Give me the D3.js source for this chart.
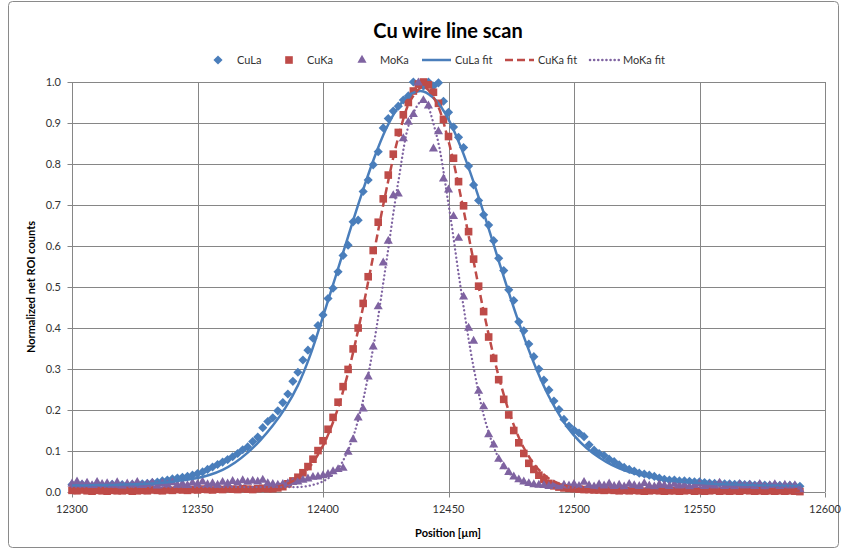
<!DOCTYPE html>
<html>
<head>
<meta charset="utf-8">
<script src="https://cdn.jsdelivr.net/npm/d3@7"></script>
<style>
  html, body { margin: 0; padding: 0; background: #fff; }
  svg { display: block; font-family: Lato, "Open Sans", sans-serif; }
</style>
</head>
<body>
<svg id="chart" width="843" height="552"></svg>
<script>
// Scan positions (µm): measured points every 2 µm, fit curves sampled every 5 µm
const positions = d3.range(12300, 12591, 2);
const fitPositions = d3.range(12300, 12591, 5);

// Normalized net ROI counts, measured
const cuLa = [
  0.018, 0.016, 0.019, 0.017, 0.015, 0.018, 0.016, 0.017, 0.019, 0.016,
  0.018, 0.017, 0.019, 0.018, 0.020, 0.021, 0.023, 0.024, 0.027, 0.029,
  0.032, 0.034, 0.036, 0.038, 0.041, 0.045, 0.049, 0.055, 0.061, 0.067,
  0.073, 0.079, 0.086, 0.094, 0.103, 0.110, 0.123, 0.134, 0.157, 0.172,
  0.181, 0.198, 0.218, 0.239, 0.270, 0.292, 0.322, 0.346, 0.375, 0.406,
  0.432, 0.472, 0.497, 0.537, 0.577, 0.602, 0.659, 0.663, 0.733, 0.761,
  0.798, 0.830, 0.888, 0.911, 0.929, 0.941, 0.956, 0.966, 1.000, 0.995,
  0.990, 1.000, 0.990, 0.998, 0.953, 0.926, 0.890, 0.865, 0.840, 0.795,
  0.749, 0.711, 0.676, 0.651, 0.613, 0.570, 0.540, 0.493, 0.467, 0.415,
  0.393, 0.361, 0.330, 0.300, 0.273, 0.249, 0.222, 0.201, 0.177, 0.161,
  0.151, 0.144, 0.135, 0.115, 0.102, 0.094, 0.089, 0.080, 0.074, 0.066,
  0.060, 0.055, 0.051, 0.046, 0.044, 0.041, 0.038, 0.034, 0.031, 0.029,
  0.029, 0.027, 0.027, 0.026, 0.025, 0.025, 0.023, 0.022, 0.021, 0.021,
  0.020, 0.020, 0.019, 0.020, 0.018, 0.019, 0.017, 0.018, 0.017, 0.016,
  0.017, 0.016, 0.015, 0.016, 0.015, 0.014
];
const cuKa = [
  0.004, 0.003, 0.005, 0.003, 0.002, 0.004, 0.003, 0.002, 0.004, 0.003,
  0.003, 0.004, 0.002, 0.003, 0.004, 0.003, 0.005, 0.004, 0.003, 0.005,
  0.004, 0.006, 0.005, 0.004, 0.006, 0.005, 0.007, 0.006, 0.005, 0.007,
  0.006, 0.008, 0.007, 0.006, 0.008, 0.007, 0.006, 0.008, 0.009, 0.008,
  0.008, 0.010, 0.013, 0.020, 0.027, 0.036, 0.047, 0.062, 0.080, 0.101,
  0.125, 0.153, 0.182, 0.219, 0.257, 0.299, 0.349, 0.400, 0.460, 0.525,
  0.589, 0.658, 0.715, 0.773, 0.824, 0.877, 0.920, 0.950, 0.978, 0.995,
  1.000, 0.993, 0.975, 0.948, 0.909, 0.867, 0.814, 0.757, 0.698, 0.635,
  0.568, 0.502, 0.440, 0.378, 0.326, 0.274, 0.226, 0.188, 0.150, 0.120,
  0.094, 0.070, 0.055, 0.041, 0.031, 0.021, 0.015, 0.012, 0.010, 0.009,
  0.008, 0.007, 0.006, 0.006, 0.005, 0.005, 0.004, 0.005, 0.004, 0.003,
  0.004, 0.003, 0.004, 0.003, 0.002, 0.003, 0.004, 0.003, 0.002, 0.003,
  0.003, 0.002, 0.003, 0.004, 0.002, 0.003, 0.002, 0.003, 0.004, 0.002,
  0.003, 0.002, 0.003, 0.002, 0.004, 0.003, 0.002, 0.003, 0.002, 0.003,
  0.002, 0.003, 0.002, 0.003, 0.002, 0.001
];
const moKa = [
  0.020, 0.025, 0.018, 0.022, 0.016, 0.024, 0.019, 0.021, 0.017, 0.023,
  0.015, 0.020, 0.018, 0.024, 0.016, 0.019, 0.022, 0.015, 0.021, 0.018,
  0.023, 0.017, 0.020, 0.016, 0.022, 0.019, 0.025, 0.018, 0.021, 0.017,
  0.024, 0.020, 0.026, 0.022, 0.028, 0.024, 0.027, 0.025, 0.029, 0.021,
  0.019, 0.017, 0.019, 0.021, 0.024, 0.025, 0.029, 0.032, 0.036, 0.037,
  0.040, 0.043, 0.050, 0.055, 0.058, 0.097, 0.128, 0.181, 0.203, 0.281,
  0.354, 0.452, 0.559, 0.612, 0.723, 0.727, 0.862, 0.902, 0.921, 0.998,
  0.955, 0.942, 0.837, 0.879, 0.764, 0.737, 0.672, 0.619, 0.476, 0.400,
  0.368, 0.246, 0.208, 0.140, 0.115, 0.080, 0.062, 0.048, 0.037, 0.030,
  0.025, 0.021, 0.018, 0.017, 0.016, 0.014, 0.018, 0.013, 0.017, 0.015,
  0.019, 0.014, 0.024, 0.016, 0.013, 0.018, 0.015, 0.020, 0.014, 0.017,
  0.013, 0.019, 0.016, 0.014, 0.021, 0.015, 0.013, 0.018, 0.016, 0.014,
  0.019, 0.015, 0.017, 0.013, 0.016, 0.020, 0.014, 0.017, 0.015, 0.022,
  0.014, 0.016, 0.013, 0.018, 0.015, 0.017, 0.014, 0.019, 0.013, 0.016,
  0.018, 0.014, 0.017, 0.015, 0.016, 0.006
];

// Fitted profiles
const cuLaFit = [
  0.016, 0.016, 0.017, 0.017, 0.018, 0.019, 0.020, 0.022, 0.025, 0.029,
  0.034, 0.042, 0.054, 0.072, 0.096, 0.126, 0.162, 0.205, 0.260, 0.335,
  0.428, 0.525, 0.623, 0.719, 0.808, 0.884, 0.939, 0.971, 0.977, 0.955,
  0.909, 0.840, 0.756, 0.662, 0.564, 0.468, 0.379, 0.300, 0.233, 0.180,
  0.138, 0.107, 0.084, 0.066, 0.053, 0.044, 0.037, 0.031, 0.027, 0.024,
  0.022, 0.020, 0.019, 0.018, 0.017, 0.016, 0.016, 0.015, 0.015
];
const cuKaFit = [
  0.003, 0.003, 0.003, 0.003, 0.003, 0.003, 0.003, 0.003, 0.003, 0.003,
  0.003, 0.003, 0.003, 0.003, 0.004, 0.006, 0.010, 0.018, 0.035, 0.064,
  0.113, 0.187, 0.291, 0.423, 0.575, 0.730, 0.865, 0.957, 0.988, 0.952,
  0.856, 0.718, 0.563, 0.412, 0.282, 0.180, 0.108, 0.061, 0.033, 0.018,
  0.010, 0.006, 0.004, 0.003, 0.003, 0.003, 0.003, 0.003, 0.003, 0.003,
  0.003, 0.003, 0.003, 0.003, 0.003, 0.003, 0.003, 0.003, 0.003
];
const moKaFit = [
  0.012, 0.012, 0.012, 0.012, 0.012, 0.012, 0.012, 0.012, 0.012, 0.012,
  0.012, 0.012, 0.012, 0.012, 0.012, 0.012, 0.012, 0.012, 0.012, 0.016,
  0.026, 0.049, 0.102, 0.199, 0.352, 0.551, 0.757, 0.910, 0.956, 0.876,
  0.702, 0.492, 0.304, 0.166, 0.083, 0.041, 0.022, 0.015, 0.013, 0.012,
  0.012, 0.012, 0.012, 0.012, 0.012, 0.012, 0.012, 0.012, 0.012, 0.012,
  0.012, 0.012, 0.012, 0.012, 0.012, 0.012, 0.012, 0.012, 0.012
];

const xTicks = [12300, 12350, 12400, 12450, 12500, 12550, 12600];
const yTicks = [0, 0.1, 0.2, 0.3, 0.4, 0.5, 0.6, 0.7, 0.8, 0.9, 1.0];
const seriesNames = ["CuLa", "CuKa", "MoKa", "CuLa fit", "CuKa fit", "MoKa fit"];

const BLUE = "#4A7EBB", RED = "#BE4B48", PURPLE = "#7F63A1";
const GRID = "#868686";

const svg = d3.select("#chart");

// chart area frame
svg.append("rect")
  .attr("x", 8.5).attr("y", 1.5).attr("width", 830).attr("height", 546)
  .attr("rx", 4).attr("fill", "#fff").attr("stroke", "#8a8a8a").attr("stroke-width", 1);

const x = d3.scaleLinear().domain([12300, 12600]).range([72, 825]);
const y = d3.scaleLinear().domain([0, 1]).range([492, 82]);
const px = v => Math.round(x(v)) + 0.5;
const py = v => Math.round(y(v)) + 0.5;

// gridlines
const grid = svg.append("g").attr("stroke", GRID).attr("stroke-width", 1);
grid.selectAll("line.h").data(yTicks.filter(t => t > 0)).join("line")
  .attr("x1", x(12300)).attr("x2", x(12600))
  .attr("y1", d => py(d)).attr("y2", d => py(d));
grid.selectAll("line.v").data(xTicks.filter(t => t > 12300)).join("line")
  .attr("y1", y(0)).attr("y2", y(1))
  .attr("x1", d => px(d)).attr("x2", d => px(d));

// axes
const axisG = svg.append("g").attr("stroke", GRID).attr("stroke-width", 1);
axisG.append("line").attr("x1", px(12300)).attr("x2", px(12300)).attr("y1", y(1)).attr("y2", py(0));
axisG.append("line").attr("x1", x(12300)).attr("x2", x(12600)).attr("y1", py(0)).attr("y2", py(0));
axisG.selectAll("line.yt").data(yTicks).join("line")
  .attr("x1", px(12300) - 5).attr("x2", px(12300))
  .attr("y1", d => py(d)).attr("y2", d => py(d));
axisG.selectAll("line.xt").data(xTicks).join("line")
  .attr("y1", py(0)).attr("y2", py(0) + 5)
  .attr("x1", d => px(d)).attr("x2", d => px(d));

// tick labels
svg.append("g").selectAll("text").data(yTicks).join("text")
  .attr("x", 61).attr("y", d => y(d)).attr("dy", "0.35em")
  .attr("text-anchor", "end").attr("font-size", 11).attr("fill", "#333")
  .text(d => d3.format(".1f")(d));
svg.append("g").selectAll("text").data(xTicks).join("text")
  .attr("x", d => x(d)).attr("y", 513)
  .attr("text-anchor", "middle").attr("font-size", 11).attr("fill", "#333")
  .text(d => d);

// titles
svg.append("text").attr("x", 448).attr("y", 38).attr("text-anchor", "middle")
  .attr("font-size", 20).attr("font-weight", "bold").attr("fill", "#000")
  .text("Cu wire line scan");
svg.append("text").attr("x", 448).attr("y", 537).attr("text-anchor", "middle")
  .attr("font-size", 11).attr("font-weight", "bold").attr("fill", "#000")
  .text("Position [µm]");
svg.append("text").attr("transform", "translate(35,287) rotate(-90)")
  .attr("text-anchor", "middle")
  .attr("font-size", 11).attr("font-weight", "bold").attr("fill", "#000")
  .text("Normalized net ROI counts");

// marker shapes
const diamond = d3.symbol(d3.symbolSquare, 42)();
const square = d3.symbol(d3.symbolSquare, 58)();
const triangle = d3.symbol(d3.symbolTriangle, 36)();

const plot = svg.append("g");
function drawMarkers(values, shape, color, rotate) {
  plot.append("g").selectAll("path").data(values).join("path")
    .attr("d", shape)
    .attr("fill", color)
    .attr("transform", (d, i) => `translate(${x(positions[i])},${y(d)})` + (rotate ? " rotate(45)" : ""));
}
drawMarkers(cuLa, diamond, BLUE, true);
drawMarkers(cuKa, square, RED, false);
drawMarkers(moKa, triangle, PURPLE, false);

const fitLine = d3.line()
  .x((d, i) => x(fitPositions[i]))
  .y(d => y(d))
  .curve(d3.curveCatmullRom.alpha(0.5));

plot.append("path").datum(cuLaFit).attr("d", fitLine)
  .attr("fill", "none").attr("stroke", BLUE).attr("stroke-width", 2.5);
plot.append("path").datum(cuKaFit).attr("d", fitLine)
  .attr("fill", "none").attr("stroke", RED).attr("stroke-width", 2.5)
  .attr("stroke-dasharray", "8,4");
plot.append("path").datum(moKaFit).attr("d", fitLine)
  .attr("fill", "none").attr("stroke", PURPLE).attr("stroke-width", 2.3)
  .attr("stroke-linecap", "round").attr("stroke-dasharray", "0.1,4");

// legend
const legendY = 60;
const legendItems = [
  { name: seriesNames[0], kind: "marker", shape: diamond, rotate: true, color: BLUE, mx: 218, tx: 237 },
  { name: seriesNames[1], kind: "marker", shape: square, rotate: false, color: RED, mx: 289, tx: 307 },
  { name: seriesNames[2], kind: "marker", shape: triangle, rotate: false, color: PURPLE, mx: 362, tx: 380 },
  { name: seriesNames[3], kind: "line", dash: null, color: BLUE, mx: 422, tx: 455 },
  { name: seriesNames[4], kind: "line", dash: "8,4", color: RED, mx: 505, tx: 538 },
  { name: seriesNames[5], kind: "line", dash: "0.1,4", color: PURPLE, mx: 590, tx: 623 }
];
const lg = svg.append("g");
legendItems.forEach(it => {
  if (it.kind === "marker") {
    lg.append("path").attr("d", it.shape).attr("fill", it.color)
      .attr("transform", `translate(${it.mx},${legendY})` + (it.rotate ? " rotate(45)" : ""));
  } else {
    const l = lg.append("line").attr("x1", it.mx).attr("x2", it.mx + 29)
      .attr("y1", legendY).attr("y2", legendY)
      .attr("stroke", it.color).attr("stroke-width", 2.5);
    if (it.dash) l.attr("stroke-dasharray", it.dash);
    if (it.dash === "0.1,4") l.attr("stroke-linecap", "round");
  }
  lg.append("text").attr("x", it.tx).attr("y", legendY).attr("dy", "0.35em")
    .attr("font-size", 11).attr("fill", "#333").text(it.name);
});
</script>
</body>
</html>
